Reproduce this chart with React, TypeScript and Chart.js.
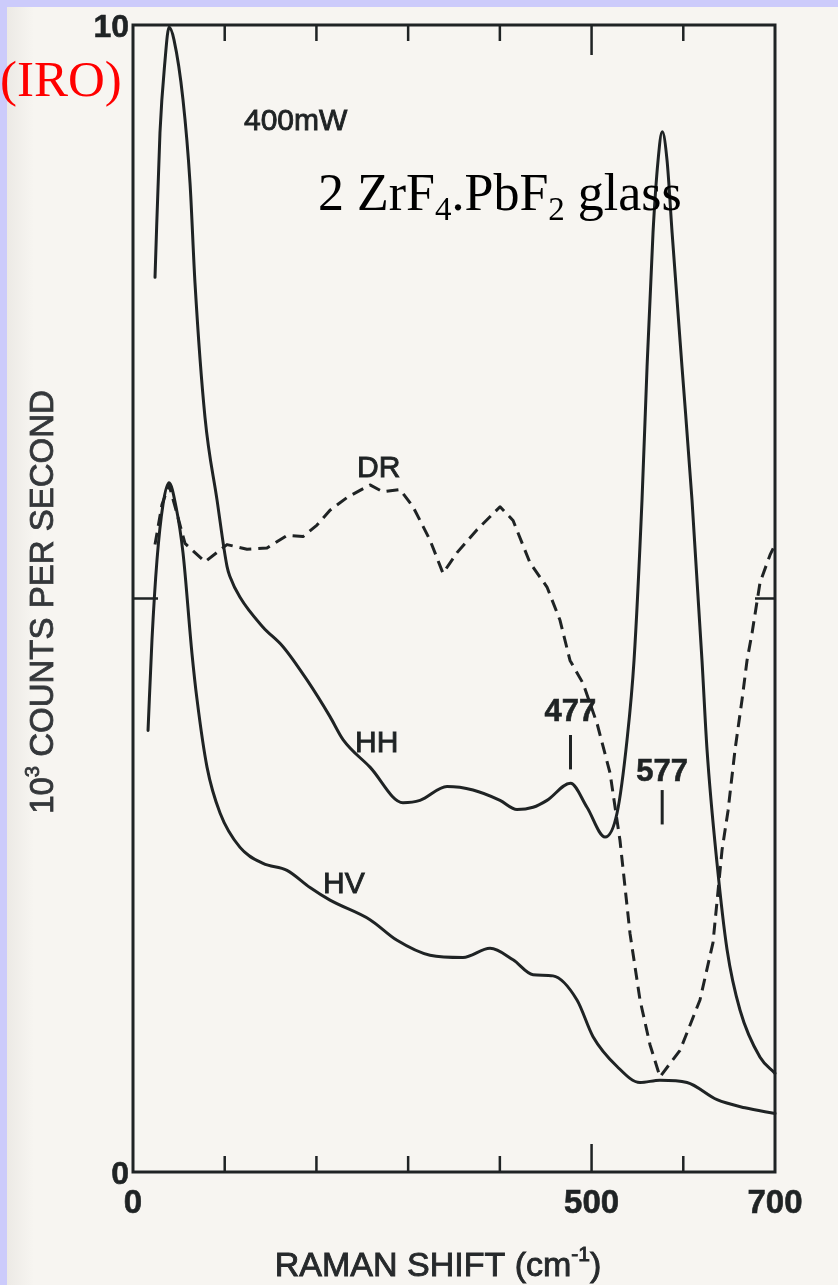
import { useEffect, useRef } from "react";
import { Chart, registerables } from "chart.js";

Chart.register(...registerables);

const WIDTH = 838;
const HEIGHT = 1285;

// Raman shift (cm^-1) and intensity (10^3 counts per second) for each polarisation
const hhShift = [24.0, 29.4, 34.9, 39.3, 44.7, 54.5, 62.2, 67.6, 78.5, 91.6, 102.5, 105.8, 116.7, 141.8, 163.6, 189.7, 214.8, 229.0, 258.4, 294.4, 312.9, 342.4, 370.7, 400.2, 418.7, 436.2, 451.4, 477, 495.0, 514.7, 527.8, 538.7, 546.3, 555.0, 560.5, 567.0, 572.5, 577, 582.3, 587.8, 598.6, 609.5, 620.4, 625.9, 636.8, 647.7, 661.9, 683.7, 700];
const hhCounts = [7.80, 9.06, 9.69, 9.98, 9.87, 9.35, 8.62, 7.75, 6.58, 5.86, 5.28, 5.19, 5.01, 4.75, 4.58, 4.29, 3.97, 3.77, 3.53, 3.22, 3.24, 3.36, 3.33, 3.24, 3.16, 3.18, 3.24, 3.39, 3.18, 2.92, 3.13, 3.77, 4.46, 5.86, 7.02, 8.19, 8.82, 9.07, 8.82, 8.19, 7.02, 5.86, 4.46, 3.68, 2.69, 1.94, 1.41, 1.00, 0.86];

const hvShift = [16.4, 20.7, 26.2, 32.7, 39.3, 46.9, 54.5, 64.3, 69.8, 80.7, 94.9, 116.7, 141.8, 167.9, 193.0, 214.8, 258.4, 287.9, 323.8, 359.8, 389.3, 414.4, 436.2, 458.0, 484.1, 501.6, 527.8, 552.8, 574.6, 604.1, 636.8, 667.3, 700];
const hvCounts = [3.85, 4.64, 5.34, 5.82, 6.01, 5.80, 5.40, 4.52, 4.12, 3.53, 3.13, 2.83, 2.69, 2.63, 2.48, 2.37, 2.20, 2.02, 1.89, 1.87, 1.95, 1.85, 1.72, 1.71, 1.50, 1.18, 0.92, 0.78, 0.80, 0.78, 0.63, 0.56, 0.51];

const drShift = [24.0, 31.6, 39.3, 46.9, 56.7, 78.5, 102.5, 124.3, 146.1, 167.9, 185.4, 200.6, 214.8, 233.3, 258.4, 272.6, 291.2, 305.3, 323.8, 338.0, 353.3, 375.1, 400.2, 414.4, 432.9, 451.4, 465.6, 476.5, 490.7, 506.0, 520.1, 531.0, 541.9, 552.8, 563.7, 574.6, 596.4, 618.2, 632.4, 642.3, 648.8, 656.4, 664.1, 669.5, 675.0, 683.7, 694.6, 700];
const drCounts = [5.47, 5.82, 5.99, 5.77, 5.48, 5.32, 5.47, 5.43, 5.44, 5.55, 5.54, 5.64, 5.77, 5.88, 5.99, 5.93, 5.95, 5.80, 5.51, 5.22, 5.40, 5.60, 5.80, 5.68, 5.31, 5.10, 4.81, 4.46, 4.26, 3.91, 3.48, 2.89, 2.08, 1.50, 1.11, 0.83, 1.06, 1.50, 2.00, 2.81, 3.15, 3.68, 4.12, 4.46, 4.70, 5.14, 5.38, 5.47];

// Axis ticks
const xTicks = [0, 100, 200, 300, 400, 500, 600, 700];
const xTickLabels = ["0", "", "", "", "", "500", "", "700"];
const xLongTicks = [500];
const yTicks = [0, 5, 10];
const yTickLabels = ["0", "", "10"];

// Marked HH bands (cm^-1)
const peakMarks = [477, 577];

const INK = "#1f2324";
const SANS = '"Liberation Sans", Arial, sans-serif';
const SERIF = '"Liberation Serif", "Times New Roman", serif';

const zip = (xs: number[], ys: number[]) => xs.map((x, i) => ({ x, y: ys[i] }));

type Run = { t: string; font: string; dy?: number };

// Draws a run of differently sized text pieces; a thin outline gives the printed glyphs their weight
function drawRuns(
  ctx: CanvasRenderingContext2D,
  runs: Run[],
  x: number,
  y: number,
  align: "left" | "center",
  outline = 0
) {
  let total = 0;
  for (const r of runs) {
    ctx.font = r.font;
    total += ctx.measureText(r.t).width;
  }
  let cx = align === "center" ? x - total / 2 : x;
  ctx.textAlign = "left";
  for (const r of runs) {
    ctx.font = r.font;
    ctx.fillText(r.t, cx, y + (r.dy || 0));
    if (outline > 0) {
      ctx.lineWidth = outline;
      ctx.strokeStyle = ctx.fillStyle as string;
      ctx.strokeText(r.t, cx, y + (r.dy || 0));
    }
    cx += ctx.measureText(r.t).width;
  }
}

function printed(ctx: CanvasRenderingContext2D, t: string, x: number, y: number, outline = 0.9) {
  ctx.fillText(t, x, y);
  ctx.lineWidth = outline;
  ctx.strokeStyle = ctx.fillStyle as string;
  ctx.strokeText(t, x, y);
}

const paperPlugin = {
  id: "paper",
  beforeDraw(chart: any) {
    const ctx: CanvasRenderingContext2D = chart.ctx;
    ctx.save();
    ctx.fillStyle = "#cccbfb";
    ctx.fillRect(0, 0, WIDTH, HEIGHT);
    ctx.fillStyle = "#f7f5f1";
    ctx.fillRect(7, 7, WIDTH - 7, HEIGHT - 7);
    const g = ctx.createLinearGradient(7, 0, 34, 0);
    g.addColorStop(0, "rgba(110,100,90,0.08)");
    g.addColorStop(1, "rgba(110,100,90,0)");
    ctx.fillStyle = g;
    ctx.fillRect(7, 7, 27, HEIGHT - 7);
    ctx.restore();
  },
};

const framePlugin = {
  id: "frame",
  beforeDatasetsDraw(chart: any) {
    const ctx: CanvasRenderingContext2D = chart.ctx;
    const { left, right, top, bottom } = chart.chartArea;
    const xs = chart.scales.x;
    const ys = chart.scales.y;
    ctx.save();
    ctx.strokeStyle = INK;
    ctx.lineWidth = 3;
    ctx.lineCap = "butt";
    ctx.strokeRect(left, top, right - left, bottom - top);
    ctx.lineWidth = 2.5;
    ctx.beginPath();
    xTicks.forEach((v) => {
      if (v === xs.min || v === xs.max) return;
      const px = xs.getPixelForValue(v);
      const long = xLongTicks.includes(v);
      ctx.moveTo(px, top);
      ctx.lineTo(px, top + (long ? 30 : 16));
      ctx.moveTo(px, bottom);
      ctx.lineTo(px, bottom - (long ? 28 : 16));
    });
    yTicks.forEach((v) => {
      if (v === ys.min || v === ys.max) return;
      const py = ys.getPixelForValue(v);
      ctx.moveTo(left, py);
      ctx.lineTo(left + 25, py);
      ctx.moveTo(right, py);
      ctx.lineTo(right - 20, py);
    });
    ctx.stroke();

    // tick labels
    ctx.fillStyle = INK;
    ctx.textBaseline = "alphabetic";
    ctx.font = `bold 33px ${SANS}`;
    ctx.textAlign = "center";
    xTicks.forEach((v, i) => {
      if (!xTickLabels[i]) return;
      printed(ctx, xTickLabels[i], xs.getPixelForValue(v), bottom + 41, 0.6);
    });
    ctx.textAlign = "right";
    ctx.font = `bold 32px ${SANS}`;
    yTicks.forEach((v, i) => {
      if (!yTickLabels[i]) return;
      printed(ctx, yTickLabels[i], left - 4, ys.getPixelForValue(v) + 12, 0.6);
    });
    ctx.restore();
  },
  afterDatasetsDraw(chart: any) {
    const ctx: CanvasRenderingContext2D = chart.ctx;
    const xs = chart.scales.x;
    const ys = chart.scales.y;
    const X = (v: number) => xs.getPixelForValue(v);
    const Y = (v: number) => ys.getPixelForValue(v);
    ctx.save();
    ctx.fillStyle = INK;
    ctx.textBaseline = "alphabetic";

    // axis titles
    ctx.fillStyle = "#26292b";
    drawRuns(
      ctx,
      [
        { t: "RAMAN SHIFT (cm", font: `34px ${SANS}` },
        { t: "-1", font: `21px ${SANS}`, dy: -15 },
        { t: ")", font: `34px ${SANS}` },
      ],
      438,
      1276,
      "center",
      0.9
    );
    ctx.save();
    ctx.translate(53, 602);
    ctx.rotate(-Math.PI / 2);
    ctx.fillStyle = "#34373a";
    drawRuns(
      ctx,
      [
        { t: "10", font: `33px ${SANS}` },
        { t: "3", font: `20px ${SANS}`, dy: -14 },
        { t: " COUNTS PER SECOND", font: `33px ${SANS}` },
      ],
      0,
      0,
      "center",
      0.8
    );
    ctx.restore();

    // curve labels
    ctx.fillStyle = INK;
    ctx.font = `30px ${SANS}`;
    ctx.textAlign = "left";
    printed(ctx, "400mW", 244, 130);
    printed(ctx, "DR", 357, 477);
    printed(ctx, "HH", 355, 752);
    printed(ctx, "HV", 323, 893);

    // band markers on HH
    ctx.font = `bold 31px ${SANS}`;
    ctx.textAlign = "center";
    ctx.strokeStyle = INK;
    const markOffsets = [
      { base: 3.51, len: 0.3, text: 0.42 },
      { base: 3.03, len: 0.3, text: 0.38 },
    ];
    peakMarks.forEach((v, i) => {
      const o = markOffsets[i];
      ctx.lineWidth = 3;
      ctx.beginPath();
      ctx.moveTo(X(v), Y(o.base));
      ctx.lineTo(X(v), Y(o.base + o.len));
      ctx.stroke();
      printed(ctx, String(v), X(v), Y(o.base + o.text), 0.6);
    });

    // sample caption
    ctx.fillStyle = "#000";
    drawRuns(
      ctx,
      [
        { t: "2 ZrF", font: `52px ${SERIF}` },
        { t: "4", font: `33px ${SERIF}`, dy: 10 },
        { t: ".PbF", font: `52px ${SERIF}` },
        { t: "2", font: `33px ${SERIF}`, dy: 10 },
        { t: " glass", font: `52px ${SERIF}` },
      ],
      318,
      210,
      "left"
    );
    ctx.fillStyle = "#ff0000";
    ctx.font = `51px ${SERIF}`;
    ctx.textAlign = "left";
    ctx.fillText("(IRO)", 0, 96);
    ctx.restore();
  },
};

export default function App() {
  const canvasRef = useRef<HTMLCanvasElement | null>(null);

  useEffect(() => {
    const canvas = canvasRef.current;
    if (!canvas) return;
    const line = {
      borderColor: INK,
      borderWidth: 3,
      pointRadius: 0,
      fill: false,
      borderJoinStyle: "round" as const,
      borderCapStyle: "round" as const,
      clip: false as const,
    };
    const chart = new Chart(canvas, {
      type: "line",
      data: {
        datasets: [
          { ...line, label: "HH", data: zip(hhShift, hhCounts), cubicInterpolationMode: "monotone" },
          { ...line, label: "HV", data: zip(hvShift, hvCounts), cubicInterpolationMode: "monotone" },
          {
            ...line,
            label: "DR",
            data: zip(drShift, drCounts),
            tension: 0,
            borderDash: [12, 7],
            borderCapStyle: "butt" as const,
          },
        ],
      },
      options: {
        responsive: false,
        animation: false,
        devicePixelRatio: 1,
        layout: { padding: { left: 133, top: 25, right: WIDTH - 775, bottom: HEIGHT - 1172 } },
        scales: {
          x: { type: "linear", min: 0, max: 700, display: false },
          y: { type: "linear", min: 0, max: 10, display: false },
        },
        plugins: { legend: { display: false }, tooltip: { enabled: false }, title: { display: false } },
        events: [],
      },
      plugins: [paperPlugin, framePlugin],
    });
    return () => chart.destroy();
  }, []);

  return (
    <div style={{ position: "absolute", left: 0, top: 0, width: WIDTH, height: HEIGHT }}>
      <canvas ref={canvasRef} width={WIDTH} height={HEIGHT} style={{ display: "block" }} />
    </div>
  );
}
